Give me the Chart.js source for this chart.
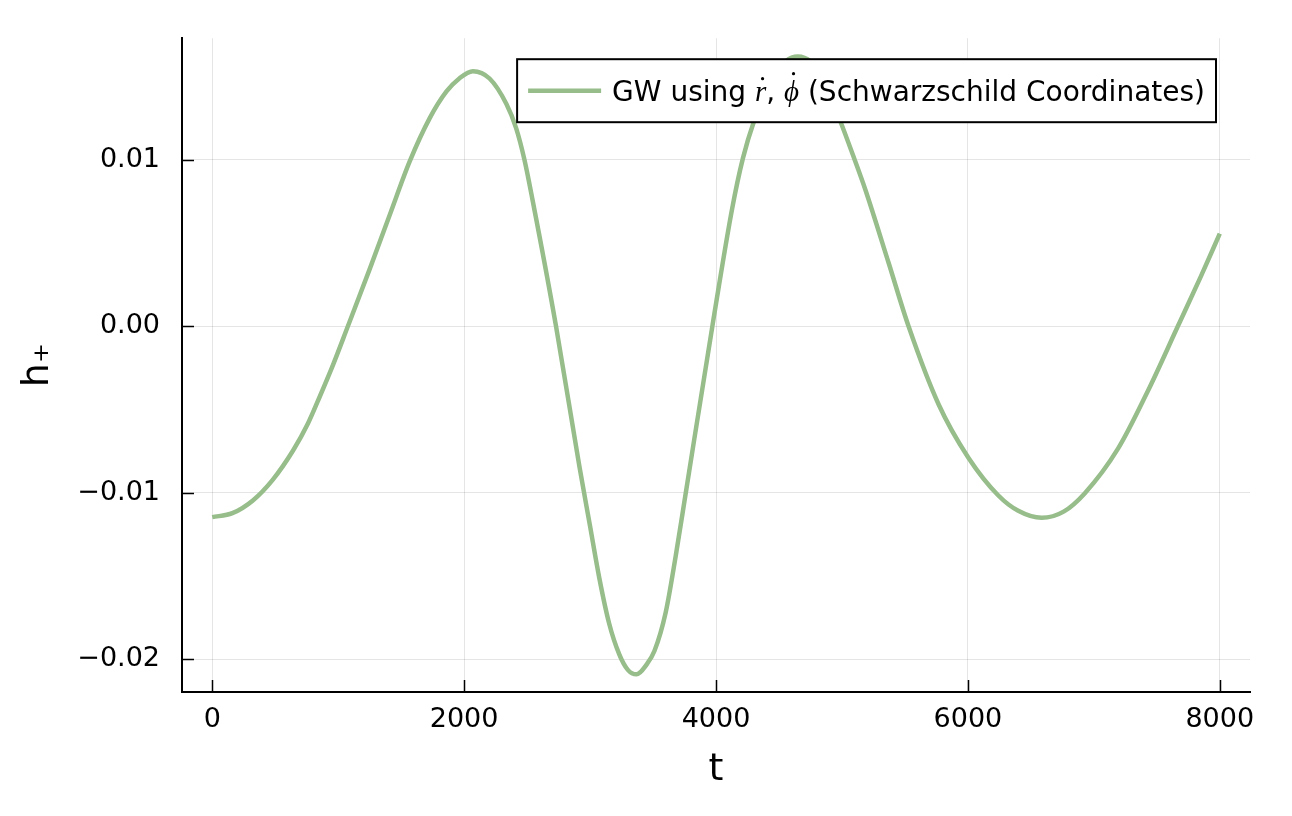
<!DOCTYPE html>
<html>
<head>
<meta charset="utf-8">
<script src="https://cdn.jsdelivr.net/npm/chart.js@4.4.0/dist/chart.umd.min.js"></script>
<style>
	html, body { margin: 0; padding: 0; background: #ffffff; }
	canvas { display: block; }
</style>
</head>
<body>
<canvas id="canGW" width="1292" height="816"></canvas>
<script>
'use strict'

//////////////////////////////////////////////////////////////////////
// data
const tValues = [
	0, 160, 325, 480, 642, 760, 855, 960, 1077,
	1251, 1410, 1568, 1727, 1860, 1964, 2070,
	2202, 2335, 2413, 2479, 2543, 2730, 2915, 3000, 3073, 3150, 3232, 3300, 3369,
	3450, 3511, 3600, 3680, 3760, 3971, 4129, 4214, 4301, 4450, 4550, 4650, 4750, 4840,
	4988, 5101, 5186, 5371, 5529, 5767, 6004, 6242, 6400, 6586, 6760, 6929, 7192, 7430, 7667, 7850, 8000];
const hPlus = [
	-0.01146, -0.01122, -0.01044, -0.00922, -0.00746, -0.00584, -0.0042, -0.0023, 0.0000,
	0.00345, 0.0067, 0.0099, 0.0125, 0.0141, 0.0149, 0.01532,
	0.01488, 0.01336, 0.0119, 0.0100, 0.0076, 0.0000, -0.0084, -0.0120, -0.0151, -0.0178, -0.0197, -0.02063, -0.0209,
	-0.0203, -0.0195, -0.0172, -0.0138, -0.0100, 0.0000, 0.0071, 0.0101, 0.0123, 0.0150, 0.0159, 0.0162, 0.0159, 0.0150,
	0.0123, 0.0100, 0.0082, 0.0038, 0.0000, -0.00468, -0.00789, -0.01016, -0.01108, -0.0115, -0.01113, -0.01002, -0.00735, -0.00387, 0.0000, 0.0030, 0.00556];

const xTicks = [0, 2000, 4000, 6000, 8000];
const yTicks = [-0.02, -0.01, 0, 0.01];
const xRange = [-240, 8240];
const yRange = [-0.02196, 0.0173];

// legend text: plain part, math part, plain part
const legendParts = ['GW using ', 'r', ', ', 'ϕ', ' (Schwarzschild Coordinates)'];

const xTitle = 't';
const yTitle = 'h₊';

const LINE_COLOR = 'rgb(150,189,138)';
const SANS = '"DejaVu Sans", sans-serif';


//////////////////////////////////////////////////////////////////////
// ticks drawn inward, like the original
const innerTicks = {
	id: 'innerTicks',
	afterDraw(chart) {
		const ctx = chart.ctx;
		const xs = chart.scales.x;
		const ys = chart.scales.y;
		const area = chart.chartArea;
		ctx.save();
		ctx.strokeStyle = '#000';
		ctx.lineWidth = 1.5;
		ctx.beginPath();
		for (const v of xTicks) {
			const px = Math.round(xs.getPixelForValue(v)) + 0.5;
			ctx.moveTo(px, area.bottom);
			ctx.lineTo(px, area.bottom - 12);
		}
		for (const v of yTicks) {
			const py = Math.round(ys.getPixelForValue(v)) + 0.5;
			ctx.moveTo(area.left, py);
			ctx.lineTo(area.left + 12, py);
		}
		ctx.stroke();
		ctx.restore();
	}
};

// legend box with the math part in italic serif
const legendBox = {
	id: 'legendBox',
	afterDraw(chart) {
		const ctx = chart.ctx;
		const area = chart.chartArea;
		const right = area.right - 34;
		const top = area.top + 21;
		const height = 63;
		const sansFont = '28px ' + SANS;
		const mathFont = 'italic 29px "Liberation Serif", serif';

		ctx.save();
		let w = 0;
		legendParts.forEach((s, i) => {
			ctx.font = (i == 1 || i == 3) ? mathFont : sansFont;
			w += ctx.measureText(s).width;
		});
		const width = 95 + w + 11;
		const left = right - width;

		ctx.fillStyle = '#fff';
		ctx.fillRect(left, top, width, height);
		ctx.strokeStyle = '#000';
		ctx.lineWidth = 2;
		ctx.strokeRect(left, top, width, height);

		const cy = top + height / 2;
		ctx.strokeStyle = LINE_COLOR;
		ctx.lineWidth = 4.5;
		ctx.beginPath();
		ctx.moveTo(left + 11, cy);
		ctx.lineTo(left + 84, cy);
		ctx.stroke();

		let x = left + 95;
		const base = cy + 10;
		ctx.fillStyle = '#000';
		ctx.textBaseline = 'alphabetic';
		legendParts.forEach((s, i) => {
			const isMath = (i == 1 || i == 3);
			ctx.font = isMath ? mathFont : sansFont;
			ctx.fillText(s, x, base);
			const sw = ctx.measureText(s).width;
			if (isMath) {
				// dot above (time derivative)
				const dx = x + sw / 2 + 2;
				const dy = i == 1 ? base - 22 : base - 27;
				ctx.beginPath();
				ctx.arc(dx, dy, 1.6, 0, Math.PI * 2);
				ctx.fill();
			}
			x += sw;
		});
		ctx.restore();
	}
};


//////////////////////////////////////////////////////////////////////
const points = tValues.map((t, i) => ({ x: t, y: hPlus[i] }));

const ctxGW = document.getElementById('canGW').getContext('2d');

const myChartGW = new Chart(ctxGW, {
	type: 'line',
	data: {
		datasets: [{
			label: legendParts.join(''),
			data: points,
			borderColor: LINE_COLOR,
			backgroundColor: LINE_COLOR,
			borderWidth: 4.5,
			pointRadius: 0,
			cubicInterpolationMode: 'monotone',
			fill: false
		}]
	},
	options: {
		responsive: false,
		animation: false,
		layout: { padding: { left: 0, top: 37, right: 42, bottom: 0 } },
		plugins: {
			legend: { display: false },
			tooltip: { enabled: false }
		},
		scales: {
			x: {
				type: 'linear',
				min: xRange[0],
				max: xRange[1],
				afterBuildTicks: (s) => { s.ticks = xTicks.map(v => ({ value: v })); },
				afterFit: (s) => { s.height = 124; },
				grid: { color: 'rgba(0,0,0,0.1)', lineWidth: 1, drawTicks: false },
				border: { display: true, color: '#000', width: 2 },
				ticks: {
					color: '#000',
					font: { family: SANS, size: 27 },
					padding: 12,
					maxRotation: 0,
					callback: (v) => String(v)
				},
				title: {
					display: true,
					text: xTitle,
					color: '#000',
					font: { family: SANS, size: 38 },
					padding: { top: 0, bottom: 23 }
				}
			},
			y: {
				type: 'linear',
				min: yRange[0],
				max: yRange[1],
				afterBuildTicks: (s) => { s.ticks = yTicks.map(v => ({ value: v })); },
				afterFit: (s) => { s.width = 182; },
				grid: { color: 'rgba(0,0,0,0.1)', lineWidth: 1, drawTicks: false },
				border: { display: true, color: '#000', width: 2 },
				ticks: {
					color: '#000',
					font: { family: SANS, size: 27 },
					padding: 22,
					callback: (v) => (v < 0 ? '\u2212' : '') + Math.abs(v).toFixed(2)
				},
				title: {
					display: true,
					text: yTitle,
					color: '#000',
					font: { family: SANS, size: 38 },
					padding: { top: 15, bottom: 0 }
				}
			}
		}
	},
	plugins: [innerTicks, legendBox]
});
</script>
</body>
</html>
